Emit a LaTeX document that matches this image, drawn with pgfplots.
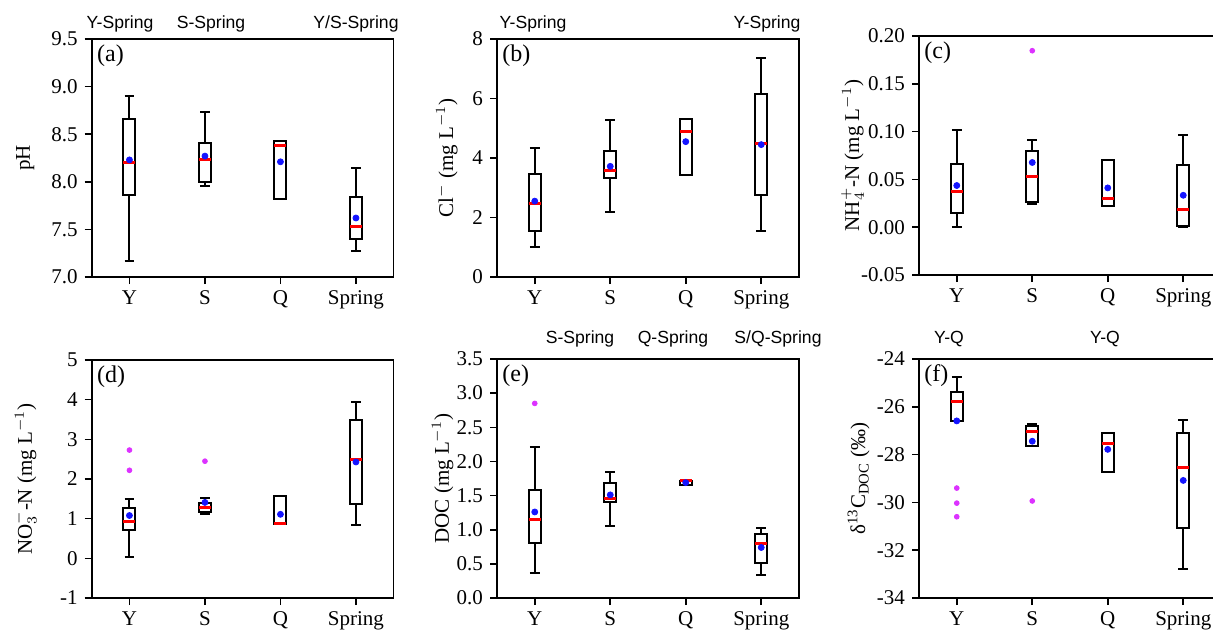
\documentclass[border=0pt]{standalone}
\usepackage{fontspec}
\setmainfont{Liberation Serif}
\newfontfamily\arial{Liberation Sans}
\usepackage{pgfplots}
\pgfplotsset{compat=1.18}
\usepgfplotslibrary{statistics}

\definecolor{outl}{RGB}{220,50,255}
\definecolor{meanblue}{RGB}{20,20,255}

\tikzset{lab/.style={anchor=north west, font=\fontsize{12}{14}\selectfont, inner sep=1pt}}

\pgfplotsset{
  panel/.style={
    scale only axis, width=151pt, height=119pt,
    anchor=south west,
    xmin=-0.5, xmax=3.5,
    xtick={0,1,2,3}, xticklabels={Y,S,Q,Spring},
    tick align=outside, xtick pos=bottom, ytick pos=left,
    major tick length=3.5pt,
    axis line style={line width=0.8pt},
    every tick/.style={black, line width=0.8pt},
    tick label style={font=\fontsize{10.5}{12}\selectfont},
    label style={font=\fontsize{10.5}{12}\selectfont},
    /pgf/number format/assume math mode=true,
    yticklabel style={/pgf/number format/.cd, fixed, fixed zerofill, precision=1},
    clip=false,
    boxplot/draw direction=y,
    boxplot/box extend=0.16,
  },
  bx/.style={black, line width=1pt, solid,
    boxplot/every median/.style={red, line width=1.5pt}},
  meanpts/.style={only marks, mark=*, mark size=1.5pt, color=meanblue, mark options={draw=none, fill=meanblue}},
  outpts/.style={only marks, mark=*, mark size=1.2pt, color=outl, mark options={draw=none, fill=outl}},
}

\begin{document}
\begin{tikzpicture}
% (a) pH
\begin{axis}[panel, at={(45.85pt,176pt)}, ymin=7, ymax=9.5, ytick={7,7.5,...,9.5},
  ylabel={pH}, ylabel style={at={(axis description cs:-0.22,0.5)}, anchor=center}]
\addplot[bx, boxplot prepared={draw position=0, lower whisker=7.17, lower quartile=7.86, median=8.20, upper quartile=8.66, upper whisker=8.90}] coordinates {};
\addplot[bx, boxplot prepared={draw position=1, lower whisker=7.96, lower quartile=8.00, median=8.23, upper quartile=8.41, upper whisker=8.73}] coordinates {};
\addplot[bx, boxplot prepared={draw position=2, lower whisker=7.82, lower quartile=7.82, median=8.38, upper quartile=8.43, upper whisker=8.43}] coordinates {};
\addplot[bx, boxplot prepared={draw position=3, lower whisker=7.27, lower quartile=7.40, median=7.53, upper quartile=7.84, upper whisker=8.15}] coordinates {};
\addplot[meanpts] coordinates {(0,8.23) (1,8.27) (2,8.21) (3,7.62)};
\node[lab] at (rel axis cs:0.01,0.985) {(a)};
\end{axis}

% (b) Cl
\begin{axis}[panel, at={(248.5pt,176pt)}, ymin=0, ymax=8, ytick={0,2,...,8},
  yticklabel style={/pgf/number format/.cd, fixed, precision=0},
  ylabel={Cl$^{-}$ (mg L$^{-1}$)}, ylabel style={at={(axis description cs:-0.166,0.5)}, anchor=center}]
\addplot[bx, boxplot prepared={draw position=0, lower whisker=1.00, lower quartile=1.54, median=2.47, upper quartile=3.46, upper whisker=4.35}] coordinates {};
\addplot[bx, boxplot prepared={draw position=1, lower whisker=2.20, lower quartile=3.32, median=3.57, upper quartile=4.23, upper whisker=5.28}] coordinates {};
\addplot[bx, boxplot prepared={draw position=2, lower whisker=3.43, lower quartile=3.43, median=4.90, upper quartile=5.32, upper whisker=5.32}] coordinates {};
\addplot[bx, boxplot prepared={draw position=3, lower whisker=1.55, lower quartile=2.74, median=4.49, upper quartile=6.16, upper whisker=7.35}] coordinates {};
\addplot[meanpts] coordinates {(0,2.55) (1,3.72) (2,4.55) (3,4.45)};
\node[lab] at (rel axis cs:0.01,0.985) {(b)};
\end{axis}

% (c) NH4
\begin{axis}[panel, at={(459.5pt,177pt)}, height=119.5pt, ymin=-0.05, ymax=0.2, ytick={-0.05,0,0.05,0.1,0.15,0.2},
  yticklabel style={/pgf/number format/.cd, fixed, fixed zerofill, precision=2},
  ylabel={NH$_4^{+}$-N (mg L$^{-1}$)}, ylabel style={at={(axis description cs:-0.22,0.5)}, anchor=center}]
\addplot[bx, boxplot prepared={draw position=0, lower whisker=0.000, lower quartile=0.015, median=0.037, upper quartile=0.066, upper whisker=0.1015}] coordinates {};
\addplot[bx, boxplot prepared={draw position=1, lower whisker=0.0247, lower quartile=0.0268, median=0.0527, upper quartile=0.0795, upper whisker=0.0907}] coordinates {};
\addplot[bx, boxplot prepared={draw position=2, lower whisker=0.0222, lower quartile=0.0222, median=0.0303, upper quartile=0.0705, upper whisker=0.0705}] coordinates {};
\addplot[bx, boxplot prepared={draw position=3, lower whisker=0.0006, lower quartile=0.0017, median=0.0184, upper quartile=0.0652, upper whisker=0.0967}] coordinates {};
\addplot[meanpts] coordinates {(0,0.0436) (1,0.0677) (2,0.0411) (3,0.0334)};
\addplot[outpts] coordinates {(1,0.1846)};
\node[lab] at (rel axis cs:0.01,0.985) {(c)};
\end{axis}

% (d) NO3
\begin{axis}[panel, at={(45.85pt,15.5pt)}, ymin=-1, ymax=5, ytick={-1,0,...,5},
  yticklabel style={/pgf/number format/.cd, fixed, precision=0},
  ylabel={NO$_3^{-}$-N (mg L$^{-1}$)}, ylabel style={at={(axis description cs:-0.22,0.5)}, anchor=center}]
\addplot[bx, boxplot prepared={draw position=0, lower whisker=0.04, lower quartile=0.72, median=0.94, upper quartile=1.28, upper whisker=1.49}] coordinates {};
\addplot[bx, boxplot prepared={draw position=1, lower whisker=1.11, lower quartile=1.16, median=1.28, upper quartile=1.39, upper whisker=1.51}] coordinates {};
\addplot[bx, boxplot prepared={draw position=2, lower whisker=0.86, lower quartile=0.86, median=0.89, upper quartile=1.56, upper whisker=1.56}] coordinates {};
\addplot[bx, boxplot prepared={draw position=3, lower whisker=0.85, lower quartile=1.38, median=2.49, upper quartile=3.49, upper whisker=3.93}] coordinates {};
\addplot[meanpts] coordinates {(0,1.08) (1,1.41) (2,1.11) (3,2.43)};
\addplot[outpts] coordinates {(0,2.73) (0,2.22) (1,2.45)};
\node[lab] at (rel axis cs:0.01,0.985) {(d)};
\end{axis}

% (e) DOC
\begin{axis}[panel, at={(248.5pt,15.5pt)}, height=119.5pt, ymin=0, ymax=3.5, ytick={0,0.5,...,3.5},
  ylabel={DOC (mg L$^{-1}$)}, ylabel style={at={(axis description cs:-0.18,0.5)}, anchor=center}]
\addplot[bx, boxplot prepared={draw position=0, lower whisker=0.36, lower quartile=0.80, median=1.15, upper quartile=1.58, upper whisker=2.21}] coordinates {};
\addplot[bx, boxplot prepared={draw position=1, lower whisker=1.06, lower quartile=1.40, median=1.46, upper quartile=1.68, upper whisker=1.85}] coordinates {};
\addplot[bx, boxplot prepared={draw position=2, lower whisker=1.65, lower quartile=1.65, median=1.72, upper quartile=1.72, upper whisker=1.72}] coordinates {};
\addplot[bx, boxplot prepared={draw position=3, lower whisker=0.33, lower quartile=0.52, median=0.80, upper quartile=0.94, upper whisker=1.03}] coordinates {};
\addplot[meanpts] coordinates {(0,1.26) (1,1.51) (2,1.69) (3,0.74)};
\addplot[outpts] coordinates {(0,2.85)};
\node[lab] at (rel axis cs:0.01,0.985) {(e)};
\end{axis}

% (f) d13C
\begin{axis}[panel, at={(459.5pt,15.5pt)}, height=119.5pt, ymin=-34, ymax=-24, ytick={-34,-32,...,-24},
  yticklabel style={/pgf/number format/.cd, fixed, precision=0},
  ylabel={δ\textsuperscript{13}C\textsubscript{DOC} (‰)}, ylabel style={at={(axis description cs:-0.20,0.5)}, anchor=center}]
\addplot[bx, boxplot prepared={draw position=0, lower whisker=-26.59, lower quartile=-26.59, median=-25.78, upper quartile=-25.36, upper whisker=-24.77}] coordinates {};
\addplot[bx, boxplot prepared={draw position=1, lower whisker=-27.64, lower quartile=-27.64, median=-27.02, upper quartile=-26.80, upper whisker=-26.71}] coordinates {};
\addplot[bx, boxplot prepared={draw position=2, lower whisker=-28.73, lower quartile=-28.73, median=-27.54, upper quartile=-27.09, upper whisker=-27.09}] coordinates {};
\addplot[bx, boxplot prepared={draw position=3, lower whisker=-32.77, lower quartile=-31.09, median=-28.52, upper quartile=-27.08, upper whisker=-26.56}] coordinates {};
\addplot[meanpts] coordinates {(0,-26.59) (1,-27.44) (2,-27.78) (3,-29.08)};
\addplot[outpts] coordinates {(0,-29.40) (0,-30.03) (0,-30.60) (1,-29.94)};
\node[lab] at (rel axis cs:0.01,0.985) {(f)};
\end{axis}

% significance annotations
\begin{scope}[every node/.style={font=\arial\fontsize{8.8}{10}\selectfont, inner sep=0pt}]
\node at (60pt,302.5pt) {Y-Spring};
\node at (105.5pt,302.5pt) {S-Spring};
\node at (178pt,302.5pt) {Y/S-Spring};
\node at (266.5pt,302.5pt) {Y-Spring};
\node at (383.5pt,302.5pt) {Y-Spring};
\node at (290pt,145pt) {S-Spring};
\node at (336.5pt,145pt) {Q-Spring};
\node at (389pt,145pt) {S/Q-Spring};
\node at (474.5pt,145pt) {Y-Q};
\node at (552.5pt,145pt) {Y-Q};
\end{scope}

\pgfresetboundingbox
\useasboundingbox (0,0) rectangle (606.5pt,314.5pt);
\end{tikzpicture}
\end{document}
